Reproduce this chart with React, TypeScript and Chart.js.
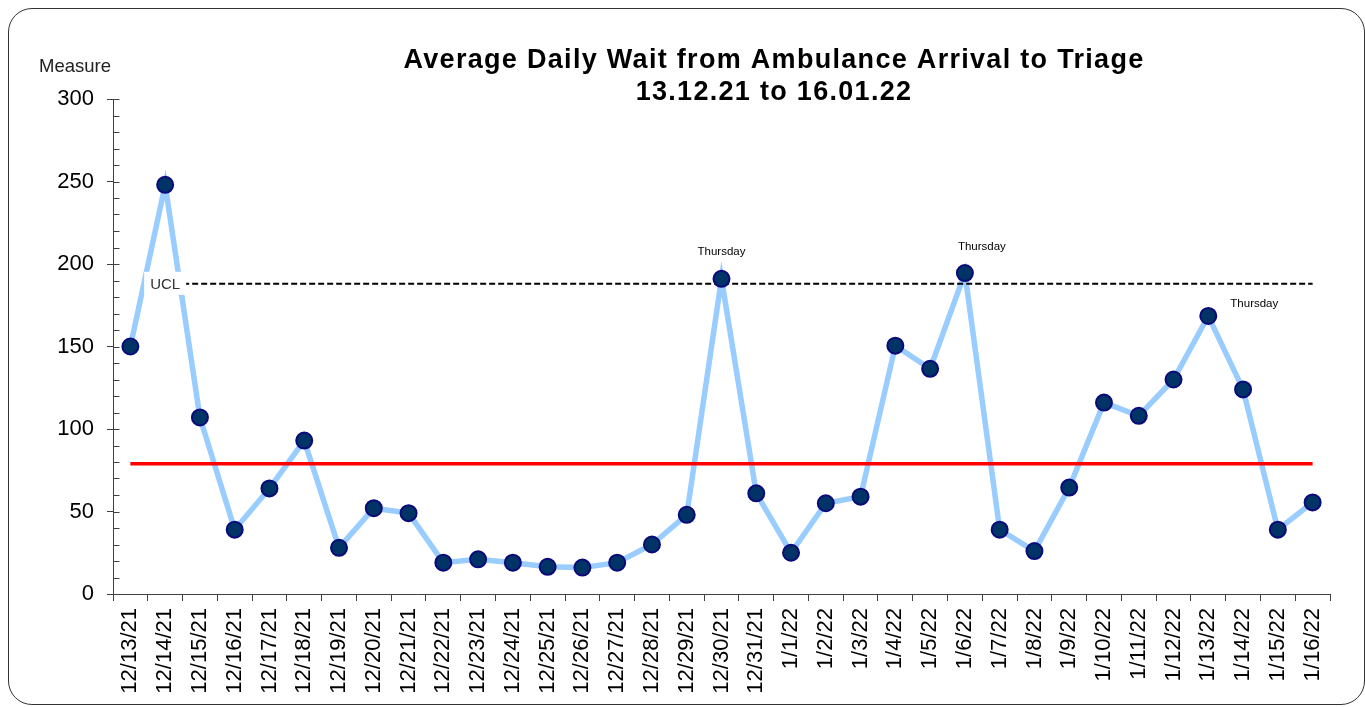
import React, { useEffect, useRef } from "react";
import { Chart, registerables } from "chart.js";

Chart.register(...registerables);

// ---- data ----
const dates: string[] = [
  "12/13/21", "12/14/21", "12/15/21", "12/16/21", "12/17/21", "12/18/21", "12/19/21",
  "12/20/21", "12/21/21", "12/22/21", "12/23/21", "12/24/21", "12/25/21", "12/26/21",
  "12/27/21", "12/28/21", "12/29/21", "12/30/21", "12/31/21", "1/1/22", "1/2/22",
  "1/3/22", "1/4/22", "1/5/22", "1/6/22", "1/7/22", "1/8/22", "1/9/22", "1/10/22",
  "1/11/22", "1/12/22", "1/13/22", "1/14/22", "1/15/22", "1/16/22",
];

const waitMinutes: number[] = [
  150, 248, 107, 39, 64, 93, 28, 52, 49, 19, 21, 19, 16.5, 16,
  19, 30, 48, 191, 61, 25, 55, 59, 150.5, 136.5, 194.5, 39, 26, 64.5, 116,
  108, 130, 168.5, 124, 39, 55.5,
];

const MEAN = 79;
const UCL = 188;

const yTicks: number[] = [0, 50, 100, 150, 200, 250, 300];

const noteIndexes: number[] = [17, 24, 31];
const noteTexts: string[] = ["Thursday", "Thursday", "Thursday"];

const titleLines: string[] = [
  "Average Daily Wait from Ambulance Arrival to Triage",
  "13.12.21 to 16.01.22",
];
const yAxisName = "Measure";
const uclName = "UCL";

// ---- style ----
const FONT = '"Liberation Sans", Arial, sans-serif';
const noteOffsets: [number, number][] = [
  [0, -27],
  [17, -26],
  [46, -12],
];

const CANVAS_W = 1355;
const CANVAS_H = 695;

const decorPlugin = {
  id: "decor",
  afterDraw(chart: any) {
    const ctx = chart.ctx as CanvasRenderingContext2D;
    const y = chart.scales.y;
    const x = chart.scales.x;
    ctx.save();

    // minor/inner ticks of the y axis
    ctx.strokeStyle = "#404040";
    ctx.lineWidth = 1;
    const ax = Math.round(x.left) + 0.5;
    for (let v = 0; v <= 300; v += 10) {
      const py = Math.round(y.getPixelForValue(v)) + 0.5;
      ctx.beginPath();
      ctx.moveTo(ax, py);
      ctx.lineTo(ax + 6, py);
      ctx.stroke();
    }

    // UCL label with white box
    const ux = x.getPixelForValue(1);
    const uy = y.getPixelForValue(UCL);
    ctx.fillStyle = "#ffffff";
    ctx.fillRect(ux - 21, uy - 12, 42, 23);
    ctx.fillStyle = "#333333";
    ctx.font = `15px ${FONT}`;
    ctx.textAlign = "center";
    ctx.textBaseline = "middle";
    ctx.fillText(uclName, ux, uy + 1);

    // Thursday notes
    ctx.fillStyle = "#000000";
    ctx.font = `11.5px ${FONT}`;
    noteIndexes.forEach((idx, i) => {
      const px = x.getPixelForValue(idx);
      const py = y.getPixelForValue(waitMinutes[idx]);
      const [dx, dy] = noteOffsets[i];
      ctx.fillText(noteTexts[i], px + dx, py + dy);
    });

    // title
    ctx.fillStyle = "#000000";
    ctx.font = `bold 27px ${FONT}`;
    (ctx as any).letterSpacing = "1.3px";
    ctx.textAlign = "center";
    ctx.textBaseline = "alphabetic";
    ctx.fillText(titleLines[0], 765, 59);
    ctx.fillText(titleLines[1], 765, 91);
    (ctx as any).letterSpacing = "0px";

    // y axis name
    ctx.fillStyle = "#222222";
    ctx.font = `18.5px ${FONT}`;
    ctx.textAlign = "left";
    ctx.fillText(yAxisName, 30, 63);

    ctx.restore();
  },
};

export default function App() {
  const ref = useRef<HTMLCanvasElement | null>(null);

  useEffect(() => {
    document.body.style.overflow = "hidden";
    const canvas = ref.current;
    if (!canvas) return;
    const chart = new Chart(canvas, {
      type: "line",
      data: {
        labels: dates,
        datasets: [
          {
            label: "points",
            data: waitMinutes,
            showLine: false,
            pointRadius: 8,
            pointHoverRadius: 8,
            pointBackgroundColor: "#003366",
            pointBorderColor: "#0a0a7a",
            pointBorderWidth: 2,
            order: 1,
          },
          {
            label: "UCL",
            data: dates.map((_, i) => (i === 0 ? null : UCL)),
            borderColor: "#000000",
            borderWidth: 2,
            borderDash: [6, 3],
            pointRadius: 0,
            fill: false,
            order: 2,
          },
          {
            label: "Mean",
            data: dates.map(() => MEAN),
            borderColor: "#ff0000",
            borderWidth: 3.5,
            pointRadius: 0,
            fill: false,
            order: 3,
          },
          {
            label: "Wait",
            data: waitMinutes,
            borderColor: "#99ccff",
            borderWidth: 5.5,
            pointRadius: 0,
            tension: 0,
            fill: false,
            order: 4,
          },
        ],
      },
      options: {
        responsive: false,
        animation: false,
        devicePixelRatio: 1,
        layout: { padding: { top: 90, right: 34, left: 0, bottom: 0 } },
        plugins: {
          legend: { display: false },
          tooltip: { enabled: false },
          title: { display: false },
        },
        events: [],
        scales: {
          x: {
            type: "category",
            offset: true,
            grid: {
              offset: true,
              drawOnChartArea: false,
              drawTicks: true,
              tickLength: 7,
              color: "#404040",
            },
            border: { color: "#404040", width: 1 },
            ticks: {
              autoSkip: false,
              maxRotation: 90,
              minRotation: 90,
              padding: 7,
              color: "#000000",
              font: { family: FONT, size: 22 },
            },
            afterFit: (s: any) => {
              s.height = 110;
            },
          },
          y: {
            min: 0,
            max: 300,
            afterBuildTicks: (s: any) => {
              s.ticks = yTicks.map((v) => ({ value: v }));
            },
            grid: {
              drawOnChartArea: false,
              drawTicks: true,
              tickLength: 6,
              color: "#404040",
            },
            border: { color: "#404040", width: 1 },
            ticks: {
              padding: 13,
              color: "#000000",
              font: { family: FONT, size: 22 },
            },
            afterFit: (s: any) => {
              s.width = 104;
            },
          },
        },
      },
      plugins: [decorPlugin],
    });
    return () => chart.destroy();
  }, []);

  return (
    <div
      style={{
        position: "absolute",
        left: 8,
        top: 8,
        width: 1357,
        height: 697,
        boxSizing: "border-box",
        border: "1px solid #333",
        borderRadius: 24,
        background: "#fff",
        overflow: "hidden",
      }}
    >
      <canvas
        ref={ref}
        width={CANVAS_W}
        height={CANVAS_H}
        style={{ display: "block", width: CANVAS_W, height: CANVAS_H }}
      />
    </div>
  );
}
